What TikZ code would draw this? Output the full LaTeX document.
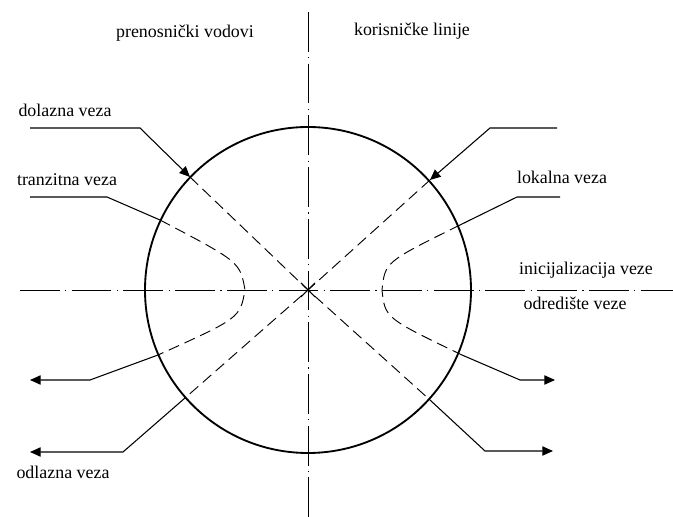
\documentclass[tikz,border=0pt]{standalone}
\usepackage{fontspec}
\setmainfont{Liberation Serif}
\usetikzlibrary{arrows.meta}

\begin{document}
\begin{tikzpicture}[x={(0.0265cm,0)}, y={(0,-0.0265cm)},
  axisline/.style={line width=0.7pt, dash pattern=on 30pt off 4pt on 1pt off 4pt},
  pathline/.style={line width=0.7pt, dash pattern=on 8.5pt off 4.5pt},
  leadline/.style={line width=0.8pt},
  tip/.style={-{Triangle[length=8pt,width=7pt]}},
  lbl/.style={font=\fontsize{13.5}{16}\selectfont, inner sep=0pt}]
\useasboundingbox (0,0) rectangle (673,517);
% Center and crossing points on the circle
\coordinate (O) at (308,290);
\coordinate (inL) at (190,177);
\coordinate (inR) at (430,180);
\coordinate (outL) at (185,398);
\coordinate (outR) at (430,400);
\coordinate (trA) at (160,220);
\coordinate (trB) at (158,355);
\coordinate (loA) at (460,225);
\coordinate (loB) at (462,355);
% Axes
\draw[axisline] (308,12) -- (308,517);
\draw[axisline] (20,290) -- (673,290);
% Circle
\draw[line width=1.4pt] (O) circle[radius=163];
% Diagonal paths through the center
\draw[pathline] (inL) -- (O) -- (outR);
\draw[pathline] (inR) -- (O) -- (outL);
\draw[leadline] (O) -- ++(-7,-7) (O) -- ++(7,-7) (O) -- ++(-7,7) (O) -- ++(7,7);
% Transit and local connections
\draw[pathline] (trA) .. controls (240,262) .. (245,290) .. controls (240,318) .. (trB);
\draw[pathline] (loA) .. controls (385,262) .. (382,290) .. controls (385,318) .. (loB);
% Incoming arrows
\draw[leadline, tip] (30,128) -- (140,128) -- (inL);
\draw[leadline, tip] (557,128) -- (490,128) -- (inR);
% Outgoing arrows
\draw[leadline, tip] (outL) -- (123,452) -- (30,452);
\draw[leadline, tip] (outR) -- (485,451) -- (553,451);
\draw[leadline, tip] (trB) -- (90,380) -- (30,380);
\draw[leadline, tip] (loB) -- (520,380) -- (555,380);
% Lead lines without tips
\draw[leadline] (30,197) -- (107,197) -- (trA);
\draw[leadline] (560,197) -- (517,197) -- (loA);
% Labels
\node[lbl] (prenos) at (185,33) {prenosnički vodovi};
\node[lbl] (korisn) at (412,31) {korisničke linije};
\node[lbl] (dolazna) at (65,110) {dolazna veza};
\node[lbl] (tranz) at (67,180) {tranzitna veza};
\node[lbl] (lokalna) at (562,177) {lokalna veza};
\node[lbl] (inic) at (586,270) {inicijalizacija veze};
\node[lbl] (odred) at (575,303) {odredište veze};
\node[lbl] (odlazna) at (63,472) {odlazna veza};
\end{tikzpicture}
\end{document}
